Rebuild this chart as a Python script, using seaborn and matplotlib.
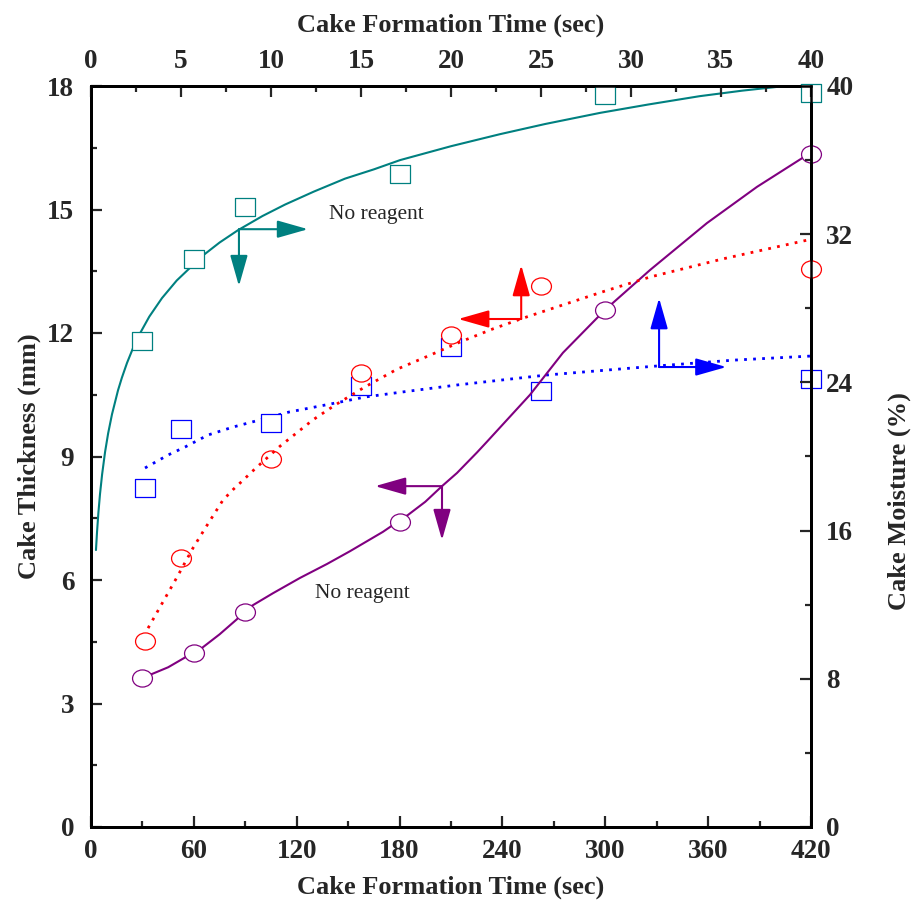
import matplotlib
matplotlib.use("Agg")
import matplotlib.pyplot as plt
import seaborn as sns
from matplotlib.path import Path
from matplotlib.transforms import Affine2D
from matplotlib.ticker import MultipleLocator

# ---------------- data ----------------
# Thickness, no reagent (bottom time axis, left axis)
purple_t = [30, 60, 90, 180, 300, 420]
purple_thk = [3.62, 4.22, 5.22, 7.42, 12.56, 16.36]
purple_curve_t = [30, 45, 59.5, 64.75, 75, 85.2, 89.25, 94.5, 106.2, 121.9, 137.7, 151.1,
                  170.3, 179.1, 184.9, 195, 204.75, 213.5, 225.2, 231, 256.1, 275.3, 299.8,
                  326.1, 359.3, 388.5, 415.3, 420]
purple_curve_thk = [3.62, 3.88, 4.23, 4.35, 4.68, 5.05, 5.22, 5.39, 5.68, 6.05, 6.39, 6.70,
                    7.17, 7.42, 7.58, 7.90, 8.28, 8.60, 9.10, 9.36, 10.50, 11.52, 12.56,
                    13.53, 14.67, 15.55, 16.26, 16.37]

# Moisture, no reagent (bottom time axis, right axis)
teal_t = [30, 60, 90, 180, 300, 420]
teal_moist = [26.25, 30.64, 33.45, 35.25, 39.5, 39.6]
teal_curve_t = [2.9, 3.5, 4.3, 5.25, 6.5, 8.2, 10.0, 12.25, 15.75, 18.0, 21.0, 24.5, 28.6,
                34.0, 41.4, 50.0, 65.3, 75.0, 85.8, 100.0, 113.2, 130.0, 148.2, 165.0,
                180.3, 210.0, 238.6, 265.0, 297.0, 325.0, 355.0, 380.0, 405.0, 420.0]
teal_curve_moist = [14.95, 15.9, 16.95, 17.97, 19.05, 20.24, 21.25, 22.28, 23.57, 24.25,
                    25.05, 25.85, 26.65, 27.55, 28.55, 29.5, 30.85, 31.55, 32.22, 32.98,
                    33.6, 34.3, 35.0, 35.5, 36.0, 36.75, 37.4, 37.95, 38.55, 39.0, 39.45,
                    39.75, 40.0, 40.2]

# Thickness, with reagent (top time axis, left axis)
red_t = [3, 5, 10, 15, 20, 25, 40]
red_thk = [4.53, 6.53, 8.93, 11.03, 11.95, 13.14, 13.55]
red_curve_t = [3.17, 4.0, 4.78, 5.67, 6.39, 7.33, 7.9, 8.39, 9.11, 10.5, 12.33, 13.56, 15.22,
               17.0, 18.83, 20.5, 22.33, 24.0, 26.2, 28.56, 31.06, 35.1, 39.83]
red_curve_thk = [4.83, 5.47, 6.07, 6.78, 7.29, 7.94, 8.20, 8.40, 8.70, 9.25, 9.89, 10.25,
                 10.69, 11.12, 11.46, 11.78, 12.10, 12.36, 12.68, 13.02, 13.36, 13.80, 14.26]

# Moisture, with reagent (top time axis, right axis)
blue_t = [3, 5, 10, 15, 20, 25, 40]
blue_moist = [18.28, 21.46, 21.8, 23.80, 25.93, 23.55, 24.17]
blue_curve_t = [3.0, 4.28, 5.22, 6.5, 7.89, 8.94, 11.0, 13.28, 15.22, 17.28, 20.33, 22.83,
                25.33, 28.72, 31.5, 35.67, 39.94]
blue_curve_moist = [19.38, 20.08, 20.51, 21.16, 21.59, 21.86, 22.4, 22.83, 23.21, 23.48,
                    23.86, 24.13, 24.40, 24.67, 24.89, 25.20, 25.42]

bottom_ticks = [0, 60, 120, 180, 240, 300, 360, 420]
top_ticks = [0, 5, 10, 15, 20, 25, 30, 35, 40]
left_ticks = [0, 3, 6, 9, 12, 15, 18]
right_ticks = [0, 8, 16, 24, 32, 40]

label_text = "No reagent"

# ---------------- style ----------------
sns.set_style("ticks")
plt.rcParams["font.family"] = ["Liberation Serif", "DejaVu Serif"]
plt.rcParams["font.weight"] = "bold"
plt.rcParams["axes.labelweight"] = "bold"

PURPLE = "#800080"
TEAL = "#008080"
RED = "#FF0000"
BLUE = "#0000FF"

ellipse = Path.unit_circle().transformed(Affine2D().scale(1.0, 0.86))
rect = Path([(-1, -0.88), (1, -0.88), (1, 0.88), (-1, 0.88), (-1, -0.88)],
            [Path.MOVETO, Path.LINETO, Path.LINETO, Path.LINETO, Path.CLOSEPOLY])

fig = plt.figure(figsize=(9.15, 9.11), dpi=100)
fig.patch.set_facecolor("white")
ax = fig.add_axes([91 / 915, 1 - 827 / 911, 720 / 915, 741 / 911])
axT = ax.twiny()      # top time axis, left thickness
axR = ax.twinx()      # bottom time axis, right moisture
axTR = axR.twiny()    # top time axis, right moisture

for a in (ax, axT, axR, axTR):
    a.patch.set_visible(False)
    for s in a.spines.values():
        s.set_linewidth(1.8)
        s.set_color("black")

ax.set_zorder(1.0)
axTR.set_zorder(0.5)
axR.set_zorder(1.5)
axT.set_zorder(2.0)

LW = 1.5
DOT = (0, (1, 2.25))

# purple: thickness, no reagent
sns.lineplot(x=purple_curve_t, y=purple_curve_thk, ax=ax, color=PURPLE, lw=LW,
             sort=False, estimator=None)
sns.scatterplot(x=purple_t, y=purple_thk, ax=ax, marker=ellipse, s=205,
                facecolor="white", edgecolor=PURPLE, linewidth=0.9, zorder=3, clip_on=False)

# teal: moisture, no reagent
sns.lineplot(x=teal_curve_t, y=teal_curve_moist, ax=axR, color=TEAL, lw=LW,
             sort=False, estimator=None)
sns.scatterplot(x=teal_t, y=teal_moist, ax=axR, marker=rect, s=225,
                facecolor="white", edgecolor=TEAL, linewidth=0.9, zorder=3, clip_on=False)

# red: thickness, with reagent
sns.lineplot(x=red_curve_t, y=red_curve_thk, ax=axT, color=RED, lw=2.0, linestyle=DOT,
             sort=False, estimator=None)
sns.scatterplot(x=red_t, y=red_thk, ax=axT, marker=ellipse, s=205,
                facecolor="white", edgecolor=RED, linewidth=0.9, zorder=1, clip_on=False)

# blue: moisture, with reagent
sns.lineplot(x=blue_curve_t, y=blue_curve_moist, ax=axTR,
             color=BLUE, lw=2.0, linestyle=DOT, sort=False, estimator=None)
sns.scatterplot(x=blue_t, y=blue_moist, ax=axTR, marker=rect, s=225,
                facecolor="white", edgecolor=BLUE, linewidth=0.9, zorder=3, clip_on=False)

# ---------------- axes ----------------
ax.set_xlim(0, 420)
ax.set_ylim(0, 18)
axR.set_ylim(0, 40)
axT.set_xlim(0, 40)
axTR.set_xlim(0, 40)
axTR.set_ylim(0, 40)
axTR.xaxis.set_visible(False)

ax.set_xticks(bottom_ticks)
ax.xaxis.set_minor_locator(MultipleLocator(30))
ax.set_yticks(left_ticks)
ax.yaxis.set_minor_locator(MultipleLocator(1.5))
axT.set_xticks(top_ticks)
axT.xaxis.set_minor_locator(MultipleLocator(2.5))
axR.set_yticks(right_ticks)
axR.yaxis.set_minor_locator(MultipleLocator(4))

TS = 19.5
for a in (ax, axT, axR):
    a.tick_params(which="major", direction="in", length=8, width=1.6, labelsize=TS)
    a.tick_params(which="minor", direction="in", length=4.5, width=1.6)
ax.tick_params(axis="x", pad=9)
ax.tick_params(axis="y", pad=12)
axT.tick_params(axis="x", pad=9)
axR.tick_params(axis="y", pad=11)

LS = 19
ax.set_xlabel("Cake Formation Time (sec)", fontsize=LS)
ax.set_ylabel("Cake Thickness (mm)", fontsize=LS)
axT.set_xlabel("Cake Formation Time (sec)", fontsize=LS)
axR.set_ylabel("Cake Moisture (%)", fontsize=LS)
ax.xaxis.set_label_coords(0.5, -0.066)
ax.yaxis.set_label_coords(-0.07, 0.5)
axT.xaxis.set_label_coords(0.5, 1.073)
axR.yaxis.set_label_coords(1.107, 0.44)

# ---------------- annotations ----------------
def arrow(a, corner, tip, color):
    a.annotate("", xy=tip, xytext=corner, xycoords="data", textcoords="data",
               arrowprops=dict(arrowstyle="-|>,head_length=0.95,head_width=0.27",
                               color=color, lw=1.5, shrinkA=0, shrinkB=0,
                               mutation_scale=20), annotation_clip=False)

arrow(axR, (86.3, 32.27), (126.6, 32.27), TEAL)
arrow(axR, (86.3, 32.27), (86.3, 29.2), TEAL)
arrow(axT, (23.9, 12.34), (20.4, 12.34), RED)
arrow(axT, (23.9, 12.34), (23.9, 13.65), RED)
arrow(axTR, (31.56, 24.83), (31.56, 28.55), BLUE)
arrow(axTR, (31.56, 24.83), (35.3, 24.83), BLUE)
arrow(ax, (204.75, 8.28), (165.7, 8.28), PURPLE)
arrow(ax, (204.75, 8.28), (204.75, 6.97), PURPLE)

ax.text(138.8, 14.87, label_text, fontsize=15.5, fontweight="normal", ha="left", va="center")
ax.text(130.7, 5.66, label_text, fontsize=15.5, fontweight="normal", ha="left", va="center")

fig.savefig("out.png", dpi=100, facecolor="white")
